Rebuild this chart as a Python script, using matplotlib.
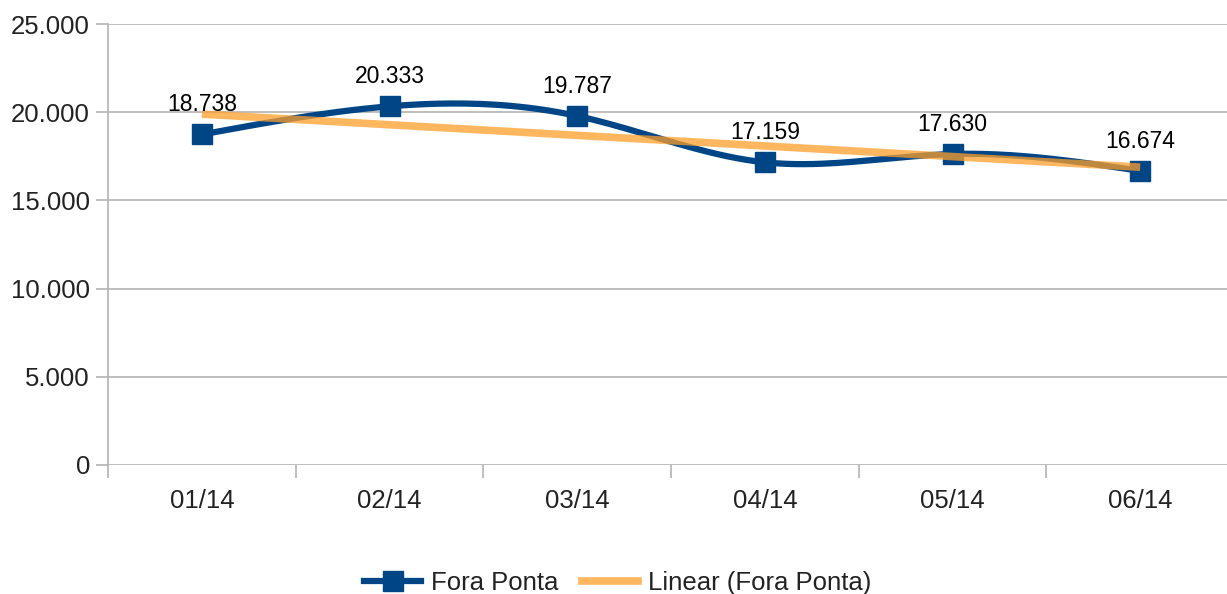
import matplotlib.pyplot as plt
import numpy as np

# dados
meses = ["01/14", "02/14", "03/14", "04/14", "05/14", "06/14"]
fora_ponta = [18738, 20333, 19787, 17159, 17630, 16674]
rotulos = ["18.738", "20.333", "19.787", "17.159", "17.630", "16.674"]
yticks = [0, 5000, 10000, 15000, 20000, 25000]
ylabels = ["0", "5.000", "10.000", "15.000", "20.000", "25.000"]


def spline_natural(x, y, n=40):
    # spline cubica natural (como a curva suavizada do LibreOffice)
    x = np.asarray(x, float)
    y = np.asarray(y, float)
    k = len(x)
    h = np.diff(x)
    A = np.zeros((k, k))
    b = np.zeros(k)
    A[0, 0] = 1
    A[-1, -1] = 1
    for i in range(1, k - 1):
        A[i, i - 1] = h[i - 1]
        A[i, i] = 2 * (h[i - 1] + h[i])
        A[i, i + 1] = h[i]
        b[i] = 6 * ((y[i + 1] - y[i]) / h[i] - (y[i] - y[i - 1]) / h[i - 1])
    M = np.linalg.solve(A, b)
    xs, ys = [], []
    for i in range(k - 1):
        t = np.linspace(x[i], x[i + 1], n)
        a = x[i + 1] - t
        c = t - x[i]
        s = (M[i] * a**3 + M[i + 1] * c**3) / (6 * h[i]) \
            + (y[i] / h[i] - M[i] * h[i] / 6) * a \
            + (y[i + 1] / h[i] - M[i + 1] * h[i] / 6) * c
        xs.append(t)
        ys.append(s)
    return np.concatenate(xs), np.concatenate(ys)


plt.rcParams['font.family'] = ['Liberation Sans', 'DejaVu Sans']

fig = plt.figure(figsize=(12.27, 5.94), dpi=100)
ax = fig.add_axes([108 / 1227, 129 / 594, 1126 / 1227, 441 / 594])

x = np.arange(len(meses))
xs, ys = spline_natural(x, fora_ponta)
azul = '#004586'
laranja = '#ff9f2a'
cor_txt = '#222222'

ax.plot(xs, ys, color=azul, lw=4.5, zorder=3, solid_capstyle='butt')
ax.plot(x, fora_ponta, ls='none', marker='s', ms=14, color=azul, zorder=4)

# linha de tendencia linear
coef = np.polyfit(x, fora_ponta, 1)
ax.plot(x, np.polyval(coef, x), color=laranja, lw=5.5, alpha=0.75, zorder=5,
        solid_capstyle='butt')

for xi, yi, r in zip(x, fora_ponta, rotulos):
    ax.annotate(r, (xi, yi), xytext=(0, 13), textcoords='offset points',
                ha='center', va='bottom', fontsize=16.5, color='black', zorder=6)

ax.set_xlim(-0.5, len(meses) - 0.5)
ax.set_ylim(0, 25000)
ax.set_yticks(yticks)
ax.set_yticklabels(ylabels, fontsize=18.5, color=cor_txt)
ax.set_xticks(x)
ax.set_xticklabels(meses, fontsize=18.5, color=cor_txt)
ax.set_xticks(np.arange(-0.5, len(meses), 1), minor=True)
ax.tick_params(axis='x', which='major', length=0, pad=17)
ax.tick_params(axis='x', which='minor', length=9, color='#b3b3b3', width=1.2)
ax.tick_params(axis='y', length=9, color='#b3b3b3', width=1.2, pad=4)

ax.grid(axis='y', color='#b3b3b3', lw=1.2)
ax.set_axisbelow(True)
for s in ['top', 'right', 'bottom']:
    ax.spines[s].set_visible(False)
ax.spines['left'].set_color('#b3b3b3')
ax.spines['left'].set_linewidth(1.2)

from matplotlib.lines import Line2D
h1 = Line2D([], [], color=azul, lw=4.5, marker='s', ms=14)
h2 = Line2D([], [], color=laranja, lw=5.5, alpha=0.75)
fig.legend([h1, h2], ["Fora Ponta", "Linear (Fora Ponta)"], loc='center',
           bbox_to_anchor=(618 / 1227, 1 - 583 / 594), ncol=2, frameon=False,
           fontsize=18.5, handlelength=2.2, handletextpad=0.4, columnspacing=0.9,
           labelcolor=cor_txt)

fig.savefig('out.png', dpi=100)
